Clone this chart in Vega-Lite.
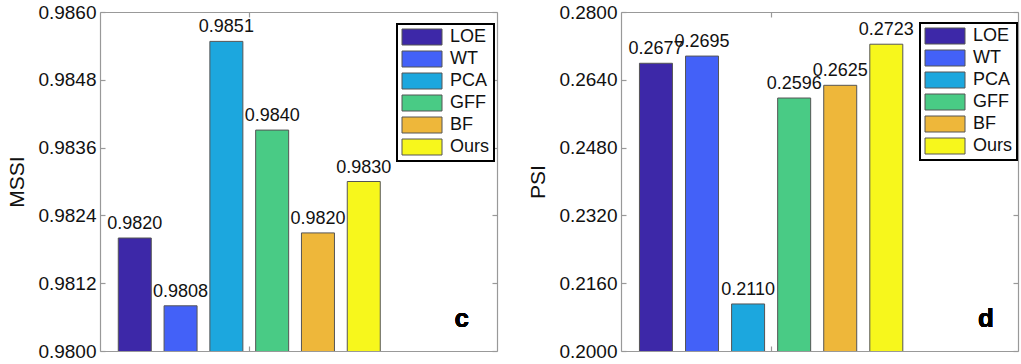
{
  "$schema": "https://vega.github.io/schema/vega-lite/v6.json",
  "background": "white",
  "padding": {"left": 6, "top": 3, "right": 2, "bottom": 0},
  "spacing": 29,
  "config": {
    "font": "Liberation Sans",
    "view": {"stroke": null},
    "legend": {"strokeWidth": 2},
    "axis": {"domainColor": "#999999", "tickColor": "#999999", "labelColor": "#111111", "titleColor": "#111111", "grid": false, "tickSize": -5, "domainWidth": 1.2, "tickWidth": 1.2}
  },
  "resolve": {"scale": {"x": "independent", "y": "independent", "color": "independent"}, "legend": {"color": "independent"}},
  "hconcat": [
    {
      "width": 397,
      "height": 339,
      "data": {"values": [
        {"method": "LOE", "idx": 1, "value": 0.9820, "label": "0.9820"},
        {"method": "WT", "idx": 2, "value": 0.9808, "label": "0.9808"},
        {"method": "PCA", "idx": 3, "value": 0.98548, "label": "0.9851"},
        {"method": "GFF", "idx": 4, "value": 0.98391, "label": "0.9840"},
        {"method": "BF", "idx": 5, "value": 0.98209, "label": "0.9820"},
        {"method": "Ours", "idx": 6, "value": 0.9830, "label": "0.9830"}
      ]},
      "layer": [
        {
          "mark": {"type": "bar", "size": 33, "stroke": "#555555", "strokeWidth": 1, "clip": true},
          "encoding": {
            "x": {"field": "idx", "type": "quantitative", "scale": {"domain": [0.35, 8.8], "nice": false, "zero": false},
                  "axis": {"orient": "bottom", "values": [3.5], "labels": false, "title": null}},
            "y": {"field": "value", "type": "quantitative", "scale": {"domain": [0.98, 0.986], "nice": false, "zero": false},
                  "axis": {"orient": "left", "values": [0.98, 0.9812, 0.9824, 0.9836, 0.9848, 0.986], "format": ".4f", "labelFontSize": 19, "labelPadding": 9, "title": "MSSI", "titleFontSize": 21, "titleFontWeight": "normal", "titlePadding": 10}},
            "color": {"field": "method", "type": "nominal",
                      "scale": {"domain": ["LOE", "WT", "PCA", "GFF", "BF", "Ours"], "range": ["#3D28A8", "#4361F8", "#1CA7DE", "#49CB85", "#EEB73A", "#F7F71C"]},
                      "legend": {"title": null, "orient": "none", "legendX": 297, "legendY": 12, "symbolType": "M-2.5,-1L2.5,-1L2.5,1L-2.5,1Z", "symbolSize": 256, "symbolOffset": 12, "symbolStrokeColor": "#555555", "symbolStrokeWidth": 1, "labelFontSize": 18, "labelColor": "#111111", "labelOffset": 19, "rowPadding": 2, "padding": 4, "strokeColor": "#000000", "fillColor": "white"}}
          }
        },
        {
          "mark": {"type": "text", "baseline": "bottom", "dy": -5, "fontSize": 18, "color": "#111111"},
          "encoding": {
            "x": {"field": "idx", "type": "quantitative", "axis": {"orient": "top", "values": [3.5], "labels": false, "title": null}},
            "y": {"field": "value", "type": "quantitative", "axis": {"orient": "right", "values": [0.98, 0.9812, 0.9824, 0.9836, 0.9848, 0.986], "labels": false, "title": null}},
            "text": {"field": "label"}
          }
        },
        {
          "mark": {"type": "text", "baseline": "alphabetic", "align": "center", "fontSize": 26, "fontWeight": "bold", "color": "#000000", "text": "c"},
          "encoding": {"x": {"datum": 8.14, "type": "quantitative", "axis": null}, "y": {"datum": 0.98042, "type": "quantitative", "axis": null}}
        }
      ],
      "resolve": {"axis": {"x": "independent", "y": "independent"}}
    },
    {
      "width": 397,
      "height": 339,
      "data": {"values": [
        {"method": "LOE", "idx": 1, "value": 0.2679, "label": "0.2677"},
        {"method": "WT", "idx": 2, "value": 0.2696, "label": "0.2695"},
        {"method": "PCA", "idx": 3, "value": 0.2111, "label": "0.2110"},
        {"method": "GFF", "idx": 4, "value": 0.2597, "label": "0.2596"},
        {"method": "BF", "idx": 5, "value": 0.2627, "label": "0.2625"},
        {"method": "Ours", "idx": 6, "value": 0.2724, "label": "0.2723"}
      ]},
      "layer": [
        {
          "mark": {"type": "bar", "size": 33, "stroke": "#555555", "strokeWidth": 1, "clip": true},
          "encoding": {
            "x": {"field": "idx", "type": "quantitative", "scale": {"domain": [0.35, 8.75], "nice": false, "zero": false},
                  "axis": {"orient": "bottom", "values": [3.5], "labels": false, "title": null}},
            "y": {"field": "value", "type": "quantitative", "scale": {"domain": [0.2, 0.28], "nice": false, "zero": false},
                  "axis": {"orient": "left", "values": [0.2, 0.216, 0.232, 0.248, 0.264, 0.28], "format": ".4f", "labelFontSize": 19, "labelPadding": 9, "title": "PSI", "titleFontSize": 21, "titleFontWeight": "normal", "titlePadding": 10}},
            "color": {"field": "method", "type": "nominal",
                      "scale": {"domain": ["LOE", "WT", "PCA", "GFF", "BF", "Ours"], "range": ["#3D28A8", "#4361F8", "#1CA7DE", "#49CB85", "#EEB73A", "#F7F71C"]},
                      "legend": {"title": null, "orient": "none", "legendX": 299, "legendY": 11, "symbolType": "M-2.5,-1L2.5,-1L2.5,1L-2.5,1Z", "symbolSize": 256, "symbolOffset": 12, "symbolStrokeColor": "#555555", "symbolStrokeWidth": 1, "labelFontSize": 18, "labelColor": "#111111", "labelOffset": 19, "rowPadding": 2, "padding": 4, "strokeColor": "#000000", "fillColor": "white"}}
          }
        },
        {
          "mark": {"type": "text", "baseline": "bottom", "dy": -5, "fontSize": 18, "color": "#111111"},
          "encoding": {
            "x": {"field": "idx", "type": "quantitative", "axis": {"orient": "top", "values": [3.5], "labels": false, "title": null}},
            "y": {"field": "value", "type": "quantitative", "axis": {"orient": "right", "values": [0.2, 0.216, 0.232, 0.248, 0.264, 0.28], "labels": false, "title": null}},
            "text": {"field": "label"}
          }
        },
        {
          "mark": {"type": "text", "baseline": "alphabetic", "align": "center", "fontSize": 26, "fontWeight": "bold", "color": "#000000", "text": "d"},
          "encoding": {"x": {"datum": 8.16, "type": "quantitative", "axis": null}, "y": {"datum": 0.20566, "type": "quantitative", "axis": null}}
        }
      ],
      "resolve": {"axis": {"x": "independent", "y": "independent"}}
    }
  ]
}
